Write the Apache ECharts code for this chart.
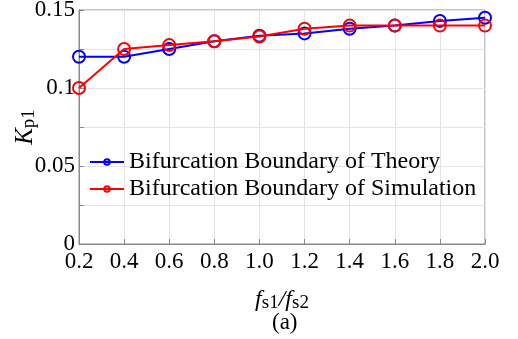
<!DOCTYPE html>
<html>
<head>
<meta charset="utf-8">
<script src="https://cdn.jsdelivr.net/npm/echarts@6/dist/echarts.min.js"></script>
<style>
  html, body { margin: 0; padding: 0; background: #fff; }
  #main { width: 518px; height: 339px; }
</style>
</head>
<body>
<div id="main"></div>
<script>
// x: fs1/fs2
const ratios = [0.2, 0.4, 0.6, 0.8, 1.0, 1.2, 1.4, 1.6, 1.8, 2.0];
// Kp1 boundaries
const theory = [0.12, 0.12, 0.125, 0.13, 0.1335, 0.135, 0.138, 0.14, 0.143, 0.145];
const simulation = [0.1, 0.125, 0.1275, 0.13, 0.133, 0.138, 0.14, 0.14, 0.14, 0.14];
const yLabels = ['0', '0.05', '0.1', '0.15'];

const serif = 'Liberation Serif';
const chart = echarts.init(document.getElementById('main'));

const mk = (name, color, data) => ({
  name: name,
  type: 'line',
  data: ratios.map((x, i) => [x, data[i]]),
  symbol: 'circle',
  symbolSize: 12,
  lineStyle: { color: color, width: 2 },
  itemStyle: { color: 'rgba(255,255,255,0)', borderColor: color, borderWidth: 2 },
  z: color === '#ff0000' ? 3 : 2
});

const option = {
  animation: false,
  grid: {
    left: 79, right: 33, top: 10, bottom: 95,
    outerBoundsMode: 'none', containLabel: false,
    show: true, borderColor: '#8a8a8a', borderWidth: 1
  },
  legend: {
    orient: 'vertical',
    left: 84,
    top: 145,
    itemWidth: 34,
    itemHeight: 7,
    itemGap: 3,
    textStyle: { fontFamily: serif, fontSize: 24, color: '#000' },
    data: ['Bifurcation Boundary of Theory', 'Bifurcation Boundary of Simulation']
  },
  xAxis: {
    type: 'value',
    min: 0.2,
    max: 2.0,
    interval: 0.2,
    axisLine: { lineStyle: { color: '#8a8a8a' } },
    axisTick: { inside: true, length: 5, lineStyle: { color: '#8a8a8a' } },
    splitLine: { lineStyle: { color: '#e3e3e3' } },
    axisLabel: {
      fontFamily: serif, fontSize: 23, color: '#000', margin: 6,
      formatter: v => v.toFixed(1)
    },
    name: '{i|f}{s|s1}{i|/f}{s|s2}',
    nameLocation: 'middle',
    nameGap: 42,
    nameMoveOverlap: false,
    nameTextStyle: {
      rich: {
        i: { fontFamily: serif, fontStyle: 'italic', fontSize: 24, color: '#000' },
        s: { fontFamily: serif, fontSize: 19, color: '#000', padding: [8, 0, 0, 0] }
      }
    }
  },
  yAxis: {
    type: 'value',
    min: 0,
    max: 0.15,
    interval: 0.025,
    axisLine: { show: true, lineStyle: { color: '#8a8a8a' } },
    axisTick: { show: true, inside: true, length: 5, lineStyle: { color: '#8a8a8a' } },
    splitLine: { lineStyle: { color: '#e3e3e3' } },
    axisLabel: {
      fontFamily: serif, fontSize: 23, color: '#000', margin: 4,
      formatter: v => {
        const k = Math.round(v / 0.05 * 1000) / 1000;
        return Number.isInteger(k) ? yLabels[k] : '';
      }
    },
    name: '{i|K}{s|p1}',
    nameLocation: 'middle',
    nameRotate: 90,
    nameGap: 40,
    nameMoveOverlap: false,
    nameTextStyle: {
      rich: {
        i: { fontFamily: serif, fontStyle: 'italic', fontSize: 25, color: '#000' },
        s: { fontFamily: serif, fontSize: 19, color: '#000', padding: [8, 0, 0, 0] }
      }
    }
  },
  graphic: [{
    type: 'text',
    left: 272,
    top: 311,
    style: { text: '(a)', font: '23px "Liberation Serif"', fill: '#000' }
  }],
  series: [
    mk('Bifurcation Boundary of Theory', '#0000ff', theory),
    mk('Bifurcation Boundary of Simulation', '#ff0000', simulation)
  ]
};
chart.setOption(option);
</script>
</body>
</html>
